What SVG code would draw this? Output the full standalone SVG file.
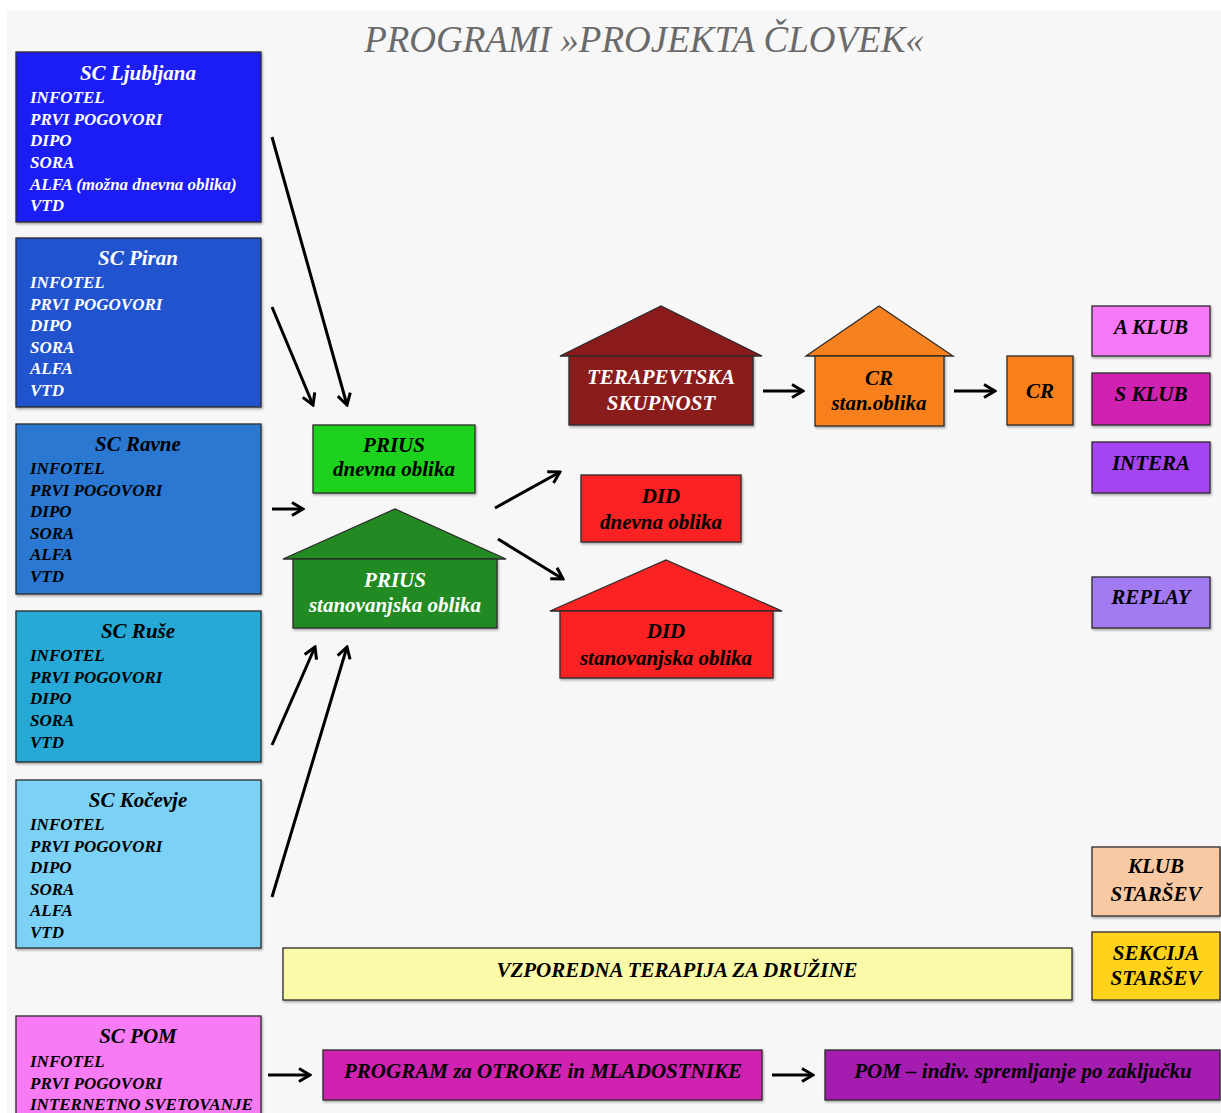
<svg xmlns="http://www.w3.org/2000/svg" width="1221" height="1113" viewBox="0 0 1221 1113" font-family="'Liberation Serif', 'Times New Roman', Times, 'DejaVu Serif', serif">
<style>
.bg{fill:#f7f7f7}
.box{stroke:#2b2b2b;stroke-width:1.3}
text{font-family:'Liberation Serif','Times New Roman',Times,'DejaVu Serif',serif;font-style:italic;font-weight:700}
.h{font-size:21px;text-anchor:middle}
.it{font-size:17px}
.lb{font-size:21px;text-anchor:middle}
.w{fill:#ffffff}
.k{fill:#000000}
.title{font-size:37px;font-weight:400;fill:#6a6a6a;text-anchor:middle}
.arr{stroke:#000;stroke-width:3;fill:none;marker-end:url(#ah)}
</style>
<defs>
<marker id="ah" viewBox="0 0 16 16" refX="14" refY="8" markerWidth="16" markerHeight="16" markerUnits="userSpaceOnUse" orient="auto">
<path d="M3,1.5 L14,8 L3,14.5" fill="none" stroke="#000" stroke-width="3"/>
</marker>
<filter id="sh" x="-5%" y="-5%" width="110%" height="115%">
<feDropShadow dx="1" dy="1.5" stdDeviation="1" flood-color="#000" flood-opacity="0.35"/>
</filter>
</defs>
<rect x="0" y="0" width="1221" height="1113" fill="#ffffff"/>
<rect class="bg" x="7" y="10" width="1214" height="1103"/>
<text class="title" x="644" y="52">PROGRAMI »PROJEKTA ČLOVEK«</text>

<g id="sc-ljubljana">
<rect class="box" filter="url(#sh)" x="16" y="52" width="245" height="170" fill="#1a1af5"/>
<text class="h w" x="138" y="80">SC Ljubljana</text>
<text class="it w" x="30" y="103">INFOTEL</text>
<text class="it w" x="30" y="125">PRVI POGOVORI</text>
<text class="it w" x="30" y="146">DIPO</text>
<text class="it w" x="30" y="168">SORA</text>
<text class="it w" x="30" y="190">ALFA (možna dnevna oblika)</text>
<text class="it w" x="30" y="211">VTD</text>
</g>
<g id="sc-piran">
<rect class="box" filter="url(#sh)" x="16" y="238" width="245" height="169" fill="#2352cf"/>
<text class="h w" x="138" y="265">SC Piran</text>
<text class="it w" x="30" y="288">INFOTEL</text>
<text class="it w" x="30" y="310">PRVI POGOVORI</text>
<text class="it w" x="30" y="331">DIPO</text>
<text class="it w" x="30" y="353">SORA</text>
<text class="it w" x="30" y="374">ALFA</text>
<text class="it w" x="30" y="396">VTD</text>
</g>
<g id="sc-ravne">
<rect class="box" filter="url(#sh)" x="16" y="424" width="245" height="170" fill="#2a78d2"/>
<text class="h k" x="138" y="451">SC Ravne</text>
<text class="it k" x="30" y="474">INFOTEL</text>
<text class="it k" x="30" y="496">PRVI POGOVORI</text>
<text class="it k" x="30" y="517">DIPO</text>
<text class="it k" x="30" y="539">SORA</text>
<text class="it k" x="30" y="560">ALFA</text>
<text class="it k" x="30" y="582">VTD</text>
</g>
<g id="sc-ruse">
<rect class="box" filter="url(#sh)" x="16" y="611" width="245" height="151" fill="#27a9d6"/>
<text class="h k" x="138" y="638">SC Ruše</text>
<text class="it k" x="30" y="661">INFOTEL</text>
<text class="it k" x="30" y="683">PRVI POGOVORI</text>
<text class="it k" x="30" y="704">DIPO</text>
<text class="it k" x="30" y="726">SORA</text>
<text class="it k" x="30" y="748">VTD</text>
</g>
<g id="sc-kocevje">
<rect class="box" filter="url(#sh)" x="16" y="780" width="245" height="168" fill="#7bd1f7"/>
<text class="h k" x="138" y="807">SC Kočevje</text>
<text class="it k" x="30" y="830">INFOTEL</text>
<text class="it k" x="30" y="852">PRVI POGOVORI</text>
<text class="it k" x="30" y="873">DIPO</text>
<text class="it k" x="30" y="895">SORA</text>
<text class="it k" x="30" y="916">ALFA</text>
<text class="it k" x="30" y="938">VTD</text>
</g>
<g id="sc-pom">
<rect class="box" filter="url(#sh)" x="16" y="1016" width="245" height="110" fill="#f87af5"/>
<text class="h k" x="138" y="1043">SC POM</text>
<text class="it k" x="30" y="1067">INFOTEL</text>
<text class="it k" x="30" y="1089">PRVI POGOVORI</text>
<text class="it k" x="30" y="1110">INTERNETNO SVETOVANJE</text>
</g>

<g id="prius-dnevna">
<rect class="box" filter="url(#sh)" x="313" y="425" width="162" height="68" fill="#1fd21f"/>
<text class="lb k" x="394" y="452">PRIUS</text>
<text class="lb k" x="394" y="476">dnevna oblika</text>
</g>
<g id="prius-stan">
<polygon class="box" points="283,559 395,509 506,559" fill="#238a23"/>
<rect class="box" filter="url(#sh)" x="293" y="559" width="204" height="69" fill="#238a23"/>
<text class="lb w" x="395" y="587">PRIUS</text>
<text class="lb w" x="395" y="612">stanovanjska oblika</text>
</g>
<g id="terapevtska">
<polygon class="box" points="560,356 661,306 762,356" fill="#8a1a1c"/>
<rect class="box" filter="url(#sh)" x="569" y="356" width="184" height="69" fill="#8a1a1c"/>
<text class="lb w" x="661" y="384">TERAPEVTSKA</text>
<text class="lb w" x="661" y="410">SKUPNOST</text>
</g>
<g id="did-dnevna">
<rect class="box" filter="url(#sh)" x="581" y="475" width="160" height="67" fill="#fa2222"/>
<text class="lb k" x="661" y="503">DID</text>
<text class="lb k" x="661" y="529">dnevna oblika</text>
</g>
<g id="did-stan">
<polygon class="box" points="550,611 666,560 782,611" fill="#fa2222"/>
<rect class="box" filter="url(#sh)" x="560" y="611" width="213" height="67" fill="#fa2222"/>
<text class="lb k" x="666" y="638">DID</text>
<text class="lb k" x="666" y="665">stanovanjska oblika</text>
</g>
<g id="cr-stan">
<polygon class="box" points="806,356 879,306 953,356" fill="#f7801f"/>
<rect class="box" filter="url(#sh)" x="815" y="356" width="129" height="70" fill="#f7801f"/>
<text class="lb k" x="879" y="385">CR</text>
<text class="lb k" x="879" y="410">stan.oblika</text>
</g>
<g id="cr">
<rect class="box" filter="url(#sh)" x="1007" y="356" width="66" height="69" fill="#f7801f"/>
<text class="lb k" x="1040" y="398">CR</text>
</g>
<g id="a-klub">
<rect class="box" filter="url(#sh)" x="1092" y="306" width="118" height="50" fill="#f879f7"/>
<text class="lb k" x="1151" y="334">A KLUB</text>
</g>
<g id="s-klub">
<rect class="box" filter="url(#sh)" x="1092" y="373" width="118" height="52" fill="#d022b0"/>
<text class="lb k" x="1151" y="401">S KLUB</text>
</g>
<g id="intera">
<rect class="box" filter="url(#sh)" x="1092" y="442" width="118" height="51" fill="#a545f2"/>
<text class="lb k" x="1151" y="470">INTERA</text>
</g>
<g id="replay">
<rect class="box" filter="url(#sh)" x="1092" y="577" width="118" height="51" fill="#a27af2"/>
<text class="lb k" x="1151" y="604">REPLAY</text>
</g>
<g id="klub-starsev">
<rect class="box" filter="url(#sh)" x="1092" y="847" width="128" height="69" fill="#f8c9a2"/>
<text class="lb k" x="1156" y="873">KLUB</text>
<text class="lb k" x="1156" y="901">STARŠEV</text>
</g>
<g id="sekcija-starsev">
<rect class="box" filter="url(#sh)" x="1092" y="932" width="128" height="68" fill="#ffd21e"/>
<text class="lb k" x="1156" y="960">SEKCIJA</text>
<text class="lb k" x="1156" y="985">STARŠEV</text>
</g>
<g id="vzporedna">
<rect class="box" filter="url(#sh)" x="283" y="948" width="789" height="52" fill="#fafaa9"/>
<text class="lb k" x="677" y="977">VZPOREDNA TERAPIJA ZA DRUŽINE</text>
</g>
<g id="program-otroke">
<rect class="box" filter="url(#sh)" x="323" y="1050" width="439" height="50" fill="#d020b0"/>
<text class="lb k" x="543" y="1078">PROGRAM za OTROKE in MLADOSTNIKE</text>
</g>
<g id="pom-indiv">
<rect class="box" filter="url(#sh)" x="825" y="1050" width="395" height="50" fill="#a41db0"/>
<text class="lb k" x="1023" y="1078">POM – indiv. spremljanje po zaključku</text>
</g>

<g id="connectors">
<line class="arr" x1="272" y1="137" x2="347" y2="405"/>
<line class="arr" x1="272" y1="307" x2="313" y2="405"/>
<line class="arr" x1="272" y1="509" x2="303" y2="509"/>
<line class="arr" x1="272" y1="745" x2="315" y2="647"/>
<line class="arr" x1="272" y1="897" x2="347" y2="647"/>
<line class="arr" x1="495" y1="508" x2="560" y2="472"/>
<line class="arr" x1="498" y1="539" x2="563" y2="579"/>
<line class="arr" x1="763" y1="391" x2="803" y2="391"/>
<line class="arr" x1="954" y1="391" x2="995" y2="391"/>
<line class="arr" x1="268" y1="1075" x2="310" y2="1075"/>
<line class="arr" x1="772" y1="1075" x2="813" y2="1075"/>
</g>
</svg>
